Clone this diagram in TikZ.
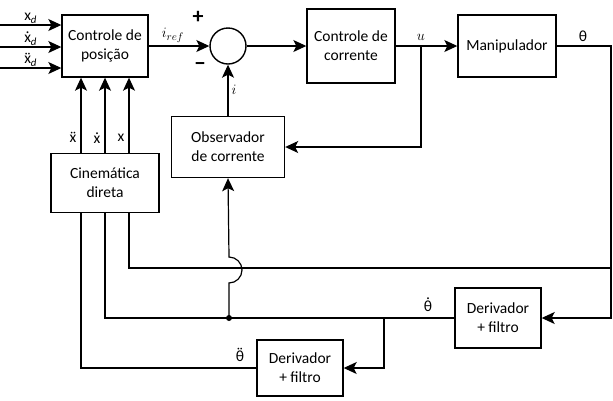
\documentclass[tikz,border=0pt]{standalone}
\usepackage{fontspec}
\setmainfont{Carlito}
\usetikzlibrary{arrows.meta}
\newcommand{\dt}[1]{\accent"02D9 #1}
\newcommand{\ddt}[1]{\accent"00A8 #1}

\begin{document}
\begin{tikzpicture}[x=1pt,y=-1pt,font=\fontsize{15.5}{19}\selectfont,
  line width=1.2pt,
  blk/.style={draw,line width=1.4pt,align=center,inner sep=2pt},
  sig/.style={-{Stealth[length=13pt,width=12pt,inset=3pt]}},
  lbl/.style={inner sep=1pt}]
\useasboundingbox (0,0) rectangle (613,400);

% blocos
\node[blk,minimum width=86pt,minimum height=62pt] (pos) at (105,46) {Controle de\\posição};
\node[draw,circle,line width=1.4pt,minimum size=36pt,inner sep=0] (sum) at (228,46) {};
\node[blk,minimum width=88pt,minimum height=74pt] (cor) at (351,46) {Controle de\\corrente};
\node[blk,minimum width=98pt,minimum height=62pt] (man) at (507,46) {Manipulador};
\node[blk,minimum width=113pt,minimum height=61pt] (obs) at (228,147) {Observador\\de corrente};
\node[blk,minimum width=108pt,minimum height=59pt] (cin) at (105,183) {Cinemática\\direta};
\node[blk,minimum width=86pt,minimum height=60pt] (der1) at (498,318) {Derivador\\+ filtro};
\node[blk,minimum width=86pt,minimum height=56pt] (der2) at (300,368) {Derivador\\+ filtro};

\node[lbl] (plus) at (198,17) {\fontsize{22}{22}\selectfont\bfseries +};
\node[lbl] (minus) at (200,67) {\fontsize{22}{22}\selectfont\bfseries −};

\coordinate (in1) at (0,25);
\coordinate (in2) at (0,47);
\coordinate (in3) at (0,68);
\coordinate (uj) at (421,46);
\coordinate (thj) at (611,46);
\coordinate (rj) at (611,268);
\coordinate (br) at (384,318);
\node[circle,fill,inner sep=0,minimum size=6pt] (dot) at (229,318) {};

% entradas
\draw[sig] (in1) -- (in1 -| pos.west) node[lbl,midway,above] {x\textsubscript{\itshape d}};
\draw[sig] (in2) -- (in2 -| pos.west) node[lbl,midway,above] {\dt{x}\textsubscript{\itshape d}};
\draw[sig] (in3) -- (in3 -| pos.west) node[lbl,midway,above] {\ddt{x}\textsubscript{\itshape d}};

% malha de corrente
\draw[sig] (pos.east) -- node[lbl,above=2pt,pos=0.4] {$i_{ref}$} (sum.west);
\draw[sig] (sum.east) -- (cor.west);
\draw[sig] (cor.east) -- (man.west);
\node[lbl,above=4pt] (ul) at (uj) {$u$};
\draw[sig] (uj) |- (obs.east);
\draw[sig] (obs.north) -- node[lbl,right=2pt] {$i$} (sum.south);

% realimentacao
\draw[sig] (man.east) -- (thj) |- (der1.east);
\node[lbl] (thl) at (583,36) {θ};
\draw[sig] ([xshift=-24pt]cin.north) -- ([xshift=-24pt]cin.north |- pos.south) node[lbl,pos=0.2,left=3pt] {\ddt{x}};
\draw[sig] (cin.north) -- (cin.north |- pos.south) node[lbl,pos=0.2,left=3pt] {\dt{x}};
\draw[sig] ([xshift=24pt]cin.north) -- ([xshift=24pt]cin.north |- pos.south) node[lbl,pos=0.2,left=3pt] {x};

\draw ([xshift=24pt]cin.south) |- (rj);
\draw (cin.south) |- (der1.west);
\node[lbl] (th1) at (428,305) {\dt{θ}};
\draw ([xshift=-24pt]cin.south) |- (der2.west);
\node[lbl] (th2) at (240,355) {\ddt{θ}};
\draw[sig] (br) |- (der2.east);
\draw[sig] (dot.center) -- (229,283) arc[start angle=90,end angle=-90,radius=13] -- (obs.south);

\end{tikzpicture}
\end{document}
